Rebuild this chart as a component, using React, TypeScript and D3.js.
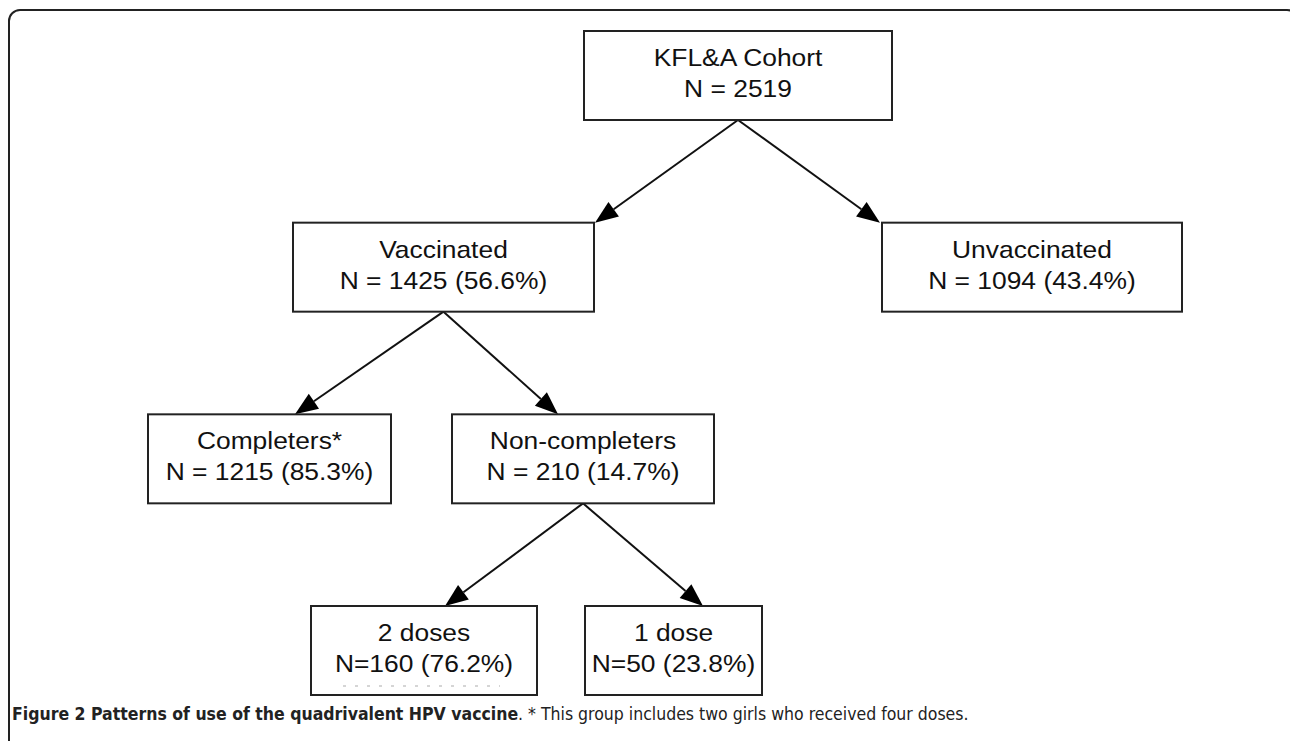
import React from "react";
import * as d3 from "d3";

// ---- data ----
const nodeIds = ["root", "vacc", "unvacc", "comp", "noncomp", "two", "one"];
const nodeParents = [null, "root", "root", "vacc", "vacc", "noncomp", "noncomp"];
const nodeTitles = ["KFL&A Cohort", "Vaccinated", "Unvaccinated", "Completers*", "Non-completers", "2 doses", "1 dose"];
const nodeCounts = [2519, 1425, 1094, 1215, 210, 160, 50];
const nodePercents = [null, 56.6, 43.4, 85.3, 14.7, 76.2, 23.8];
const compactLabel = [false, false, false, false, false, true, true];
const captionBold = "Figure 2 Patterns of use of the quadrivalent HPV vaccine";
const captionRest = ". * This group includes two girls who received four doses.";

// ---- layout (box extents per node, arrow tip x per child) ----
const boxLeft = [584, 293, 882, 148, 452, 311, 585];
const boxRight = [892, 594, 1182, 391, 714, 537, 762];
const tipX = [0, 595, 880, 295, 558, 445, 703];

const W = 1290;
const H = 741;
const BOX_H = 89;

function label(i: number) {
  const n = nodeCounts[i];
  const p = nodePercents[i];
  if (p === null) return `N = ${n}`;
  return compactLabel[i] ? `N=${n} (${p.toFixed(1)}%)` : `N = ${n} (${p.toFixed(1)}%)`;
}

export default function App() {
  const table = nodeIds.map((id, i) => ({ id, parent: nodeParents[i], i }));
  const root = d3.stratify<any>().id((d: any) => d.id).parentId((d: any) => d.parent)(table);
  const y = d3.scalePoint<number>().domain([0, 1, 2, 3]).range([31, 606]);

  const nodes = root.descendants();
  const links = root.links();

  const fontSize = 24;
  const sx = 1.1;

  return (
    <svg
      width={W}
      height={H}
      viewBox={`0 0 ${W} ${H}`}
      style={{ position: "absolute", left: 0, top: 0, display: "block", background: "#fff" }}
    >
      <rect x={9} y={10} width={1289} height={800} rx={11} ry={11} fill="none" stroke="#222" strokeWidth={2} />
      {links.map((l, k) => {
        const s = l.source.data.i;
        const t = l.target.data.i;
        const x0 = (boxLeft[s] + boxRight[s]) / 2;
        const y0 = (y(l.source.depth) as number) + BOX_H;
        const x1 = tipX[t];
        const y1 = y(l.target.depth) as number;
        const dx = x1 - x0;
        const dy = y1 - y0;
        const len = Math.hypot(dx, dy);
        const ux = dx / len;
        const uy = dy / len;
        const ah = 23;
        const aw = 9;
        const bx = x1 - ux * ah;
        const by = y1 - uy * ah;
        const pts = [
          [x1, y1],
          [bx - uy * aw, by + ux * aw],
          [bx + uy * aw, by - ux * aw],
        ];
        return (
          <g key={k}>
            <line x1={x0} y1={y0} x2={bx} y2={by} stroke="#111" strokeWidth={2} />
            <polygon points={pts.map((p) => p.join(",")).join(" ")} fill="#000" />
          </g>
        );
      })}
      {nodes.map((n) => {
        const i = n.data.i;
        const top = y(n.depth) as number;
        const cx = (boxLeft[i] + boxRight[i]) / 2;
        return (
          <g key={n.id}>
            <rect
              x={boxLeft[i]}
              y={top}
              width={boxRight[i] - boxLeft[i]}
              height={BOX_H}
              fill="#fff"
              stroke="#222"
              strokeWidth={2}
            />
            <g transform={`translate(${cx},0) scale(${sx},1)`}>
              <text
                x={0}
                y={top + 35}
                textAnchor="middle"
                fontFamily="'Liberation Sans', Arial, sans-serif"
                fontSize={fontSize}
                fill="#111"
              >
                {nodeTitles[i]}
              </text>
              <text
                x={0}
                y={top + 66}
                textAnchor="middle"
                fontFamily="'Liberation Sans', Arial, sans-serif"
                fontSize={fontSize}
                fill="#111"
              >
                {label(i)}
              </text>
            </g>
          </g>
        );
      })}
      <line x1={343} y1={686} x2={500} y2={686} stroke="#c8c8c8" strokeWidth={1.5} strokeDasharray="3 9" />
      <text x={12} y={720} fontFamily="'DejaVu Sans Condensed', 'DejaVu Sans', sans-serif" fontSize={17.5} fill="#222">
        <tspan fontWeight="bold">{captionBold}</tspan>
        <tspan>{captionRest}</tspan>
      </text>
    </svg>
  );
}
